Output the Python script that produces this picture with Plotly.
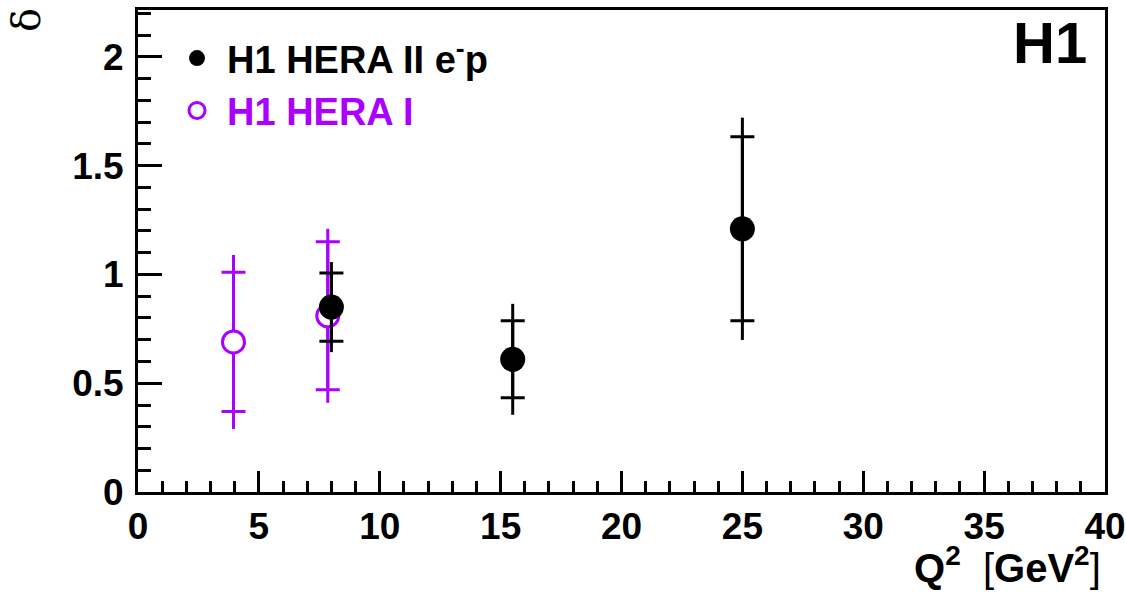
import plotly.graph_objects as go

# HERA II e-p (black, filled)
q2_hera2 = [8.0, 15.5, 25.0]
delta_hera2 = [0.85, 0.61, 1.21]
stat_hera2 = [0.157, 0.177, 0.423]
tot_hera2 = [0.207, 0.255, 0.511]

# HERA I (purple, open)
q2_hera1 = [3.95, 7.85]
delta_hera1 = [0.69, 0.81]
stat_hera1 = [0.32, 0.34]
tot_hera1 = [0.40, 0.40]

x_ticks = [0, 5, 10, 15, 20, 25, 30, 35, 40]
y_ticks = [0, 0.5, 1, 1.5, 2]

PURPLE = "#aa00ff"
FONT = "Liberation Sans"

fig = go.Figure()

def add_series(x, y, stat, tot, color, filled, name):
    fig.add_trace(go.Scatter(
        x=x, y=y, mode="markers",
        marker=dict(size=1, color="rgba(0,0,0,0)"),
        error_y=dict(type="data", array=tot, symmetric=True, width=0,
                     thickness=3, color=color),
        showlegend=False, hoverinfo="skip"))
    fig.add_trace(go.Scatter(
        x=x, y=y, mode="markers", name=name,
        marker=dict(size=25 if filled else 22, symbol="circle",
                    color=color if filled else "white",
                    line=dict(width=0 if filled else 3, color=color)),
        error_y=dict(type="data", array=stat, symmetric=True, width=12,
                     thickness=3, color=color),
        showlegend=True))

add_series(q2_hera1, delta_hera1, stat_hera1, tot_hera1, PURPLE, False,
           f"<span style='color:{PURPLE}'>H1 HERA I</span>")
add_series(q2_hera2, delta_hera2, stat_hera2, tot_hera2, "black", True,
           "H1 HERA II e<sup>-</sup>p")

axis_common = dict(showline=True, linewidth=3, linecolor="black", mirror=True,
                   ticks="inside", tickwidth=3, tickcolor="black",
                   showgrid=False, zeroline=False, automargin=False,
                   tickfont=dict(family=FONT, size=37, color="black", weight="bold"))

fig.update_xaxes(range=[0, 40], tickvals=x_ticks, ticklen=21,
                 minor=dict(dtick=1, ticklen=11, tickwidth=3, ticks="inside",
                            tickcolor="black", showgrid=False),
                 ticklabelstandoff=0, **axis_common)
fig.update_yaxes(range=[0, 2.216], tickvals=y_ticks, ticklen=24,
                 minor=dict(dtick=0.1, ticklen=13, tickwidth=3, ticks="inside",
                            tickcolor="black", showgrid=False),
                 ticklabelstandoff=4, **axis_common)

xtitle = ("<b>Q<sup>2</sup></b>&nbsp;&nbsp;"
          "<span style='font-weight:normal'>[</span>"
          "<b>GeV<sup>2</sup></b>"
          "<span style='font-weight:normal'>]</span>")

fig.update_layout(
    width=1126, height=592,
    margin=dict(l=138, r=21, t=10, b=100),
    plot_bgcolor="white", paper_bgcolor="white",
    font=dict(family=FONT, color="black"),
    legend=dict(x=0.03, y=0.965, xanchor="left", yanchor="top",
                traceorder="reversed", bgcolor="rgba(0,0,0,0)",
                font=dict(family=FONT, size=38, color="black", weight="bold"),
                itemwidth=50, tracegroupgap=0),
    annotations=[
        dict(text="<b>H1</b>", xref="paper", yref="paper", x=0.983, y=0.932,
             xanchor="right", yanchor="middle", showarrow=False,
             font=dict(family=FONT, size=58, color="black")),
        dict(text=xtitle, xref="paper", yref="paper",
             x=0.998, y=-0.208, xanchor="right", yanchor="bottom", showarrow=False,
             font=dict(family=FONT, size=40, color="black")),
        dict(text="δ", xref="paper", yref="paper", x=-0.116, y=0.979,
             xanchor="center", yanchor="middle", showarrow=False, textangle=-90,
             font=dict(family="DejaVu Serif", size=40, color="black")),
    ],
)

fig.write_html("out.html")
